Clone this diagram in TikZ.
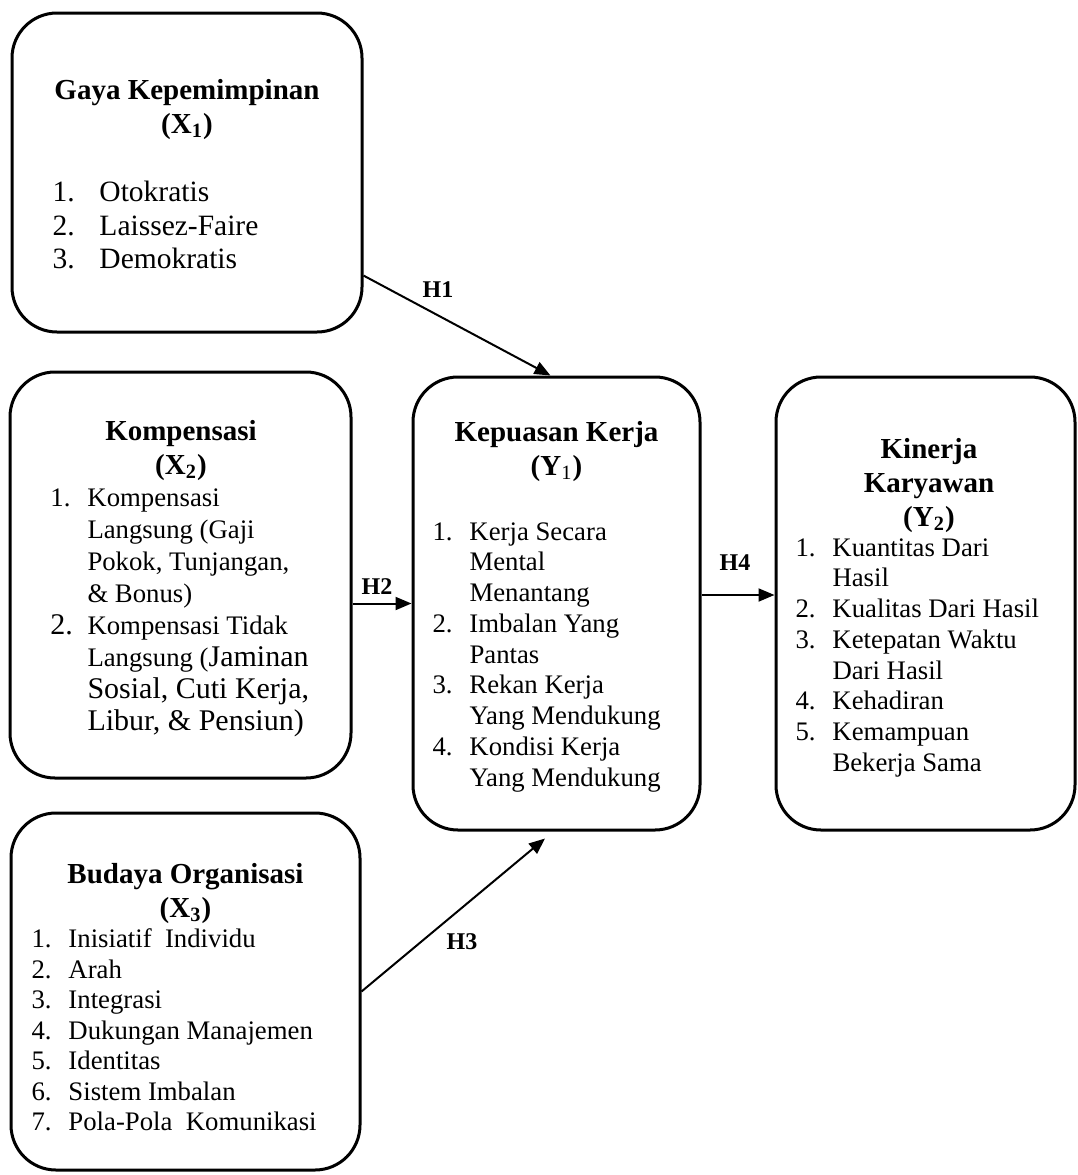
\documentclass[tikz,border=0pt]{standalone}
\usepackage{fontspec}
\setmainfont{Liberation Serif}
\usetikzlibrary{arrows.meta, positioning, calc}

\newcommand{\bigword}{\fontsize{12}{12.8}\selectfont}

\begin{document}
\begin{tikzpicture}[
    x=0.4pt, y=-0.4pt,
    varBox/.style 2 args={rectangle, draw=black, line width=1.2pt, rounded corners=18pt,
        minimum width=#1*0.4pt, minimum height=#2*0.4pt, inner sep=0pt},
    titleText/.style={anchor=north, inner sep=0pt, font=\fontsize{11.6}{13.6}\selectfont\bfseries},
    listText/.style={anchor=north west, inner sep=0pt, font=\fontsize{10.7}{#1}\selectfont},
    listText/.default=12.3pt,
    hypArrow/.style={-{Triangle[length=6.4pt, width=5.2pt]}, line width=0.8pt},
    hypLabel/.style={inner sep=0pt, font=\fontsize{9.6}{11}\selectfont\bfseries}
]
    \useasboundingbox (0,0) rectangle (1078,1175);

    % --- LEFT COLUMN: INDEPENDENT VARIABLES ---
    % Gaya Kepemimpinan (X1)
    \node[varBox={350}{319}] (gaya) at (187, 172.5) {};
    \node[titleText] (gayaTitle) at (187, 75) {\begin{tabular}{@{}c@{}}Gaya Kepemimpinan\\(X\textsubscript{1})\end{tabular}};
    \node[listText=13.4pt, font=\fontsize{11.8}{13.4}\selectfont] (gayaList) at (52, 178) {\begin{tabular}{@{}p{18.8pt}@{}l@{}}
        1. & Otokratis\\
        2. & Laissez-Faire\\
        3. & Demokratis
    \end{tabular}};

    % Kompensasi (X2)
    \node[varBox={341}{406}] (kompensasi) at (180.5, 575) {};
    \node[titleText] (kompensasiTitle) at (181, 416) {\begin{tabular}{@{}c@{}}Kompensasi\\(X\textsubscript{2})\end{tabular}};
    \node[listText=12.8pt] (kompensasiList) at (50, 484) {\begin{tabular}{@{}p{14.8pt}@{}l@{}}
        1. & Kompensasi\\
           & Langsung (Gaji\\
           & Pokok, Tunjangan,\\
           & \& Bonus)\\
        {\bigword 2.} & Kompensasi Tidak\\
           & Langsung ({\bigword Jaminan}\\
           & {\bigword Sosial, Cuti Kerja,}\\
           & {\bigword Libur, \& Pensiun)}
    \end{tabular}};

    % Budaya Organisasi (X3)
    \node[varBox={349}{357}] (budaya) at (185.5, 991.5) {};
    \node[titleText] (budayaTitle) at (185.5, 859) {\begin{tabular}{@{}c@{}}Budaya Organisasi\\(X\textsubscript{3})\end{tabular}};
    \node[listText=12.2pt] (budayaList) at (31, 926) {\begin{tabular}{@{}p{14.8pt}@{}l@{}}
        1. & Inisiatif\ \ Individu\\
        2. & Arah\\
        3. & Integrasi\\
        4. & Dukungan Manajemen\\
        5. & Identitas\\
        6. & Sistem Imbalan\\
        7. & Pola-Pola\ \ Komunikasi
    \end{tabular}};

    % --- MIDDLE: KEPUASAN KERJA (Y1) ---
    \node[varBox={287}{453}] (kepuasan) at (556.5, 603.5) {};
    \node[titleText] (kepuasanTitle) at (556.5, 417) {\begin{tabular}{@{}c@{}}Kepuasan Kerja\\(Y\textsubscript{\mdseries 1})\end{tabular}};
    \node[listText] (kepuasanList) at (432, 518) {\begin{tabular}{@{}p{14.8pt}@{}l@{}}
        1. & Kerja Secara\\
           & Mental\\
           & Menantang\\
        2. & Imbalan Yang\\
           & Pantas\\
        3. & Rekan Kerja\\
           & Yang Mendukung\\
        4. & Kondisi Kerja\\
           & Yang Mendukung
    \end{tabular}};

    % --- RIGHT: KINERJA KARYAWAN (Y2) ---
    \node[varBox={299}{453}] (kinerja) at (925.5, 603.5) {};
    \node[titleText] (kinerjaTitle) at (929, 434) {\begin{tabular}{@{}c@{}}Kinerja\\Karyawan\\(Y\textsubscript{2})\end{tabular}};
    \node[listText] (kinerjaList) at (795, 534) {\begin{tabular}{@{}p{14.8pt}@{}l@{}}
        1. & Kuantitas Dari\\
           & Hasil\\
        2. & Kualitas Dari Hasil\\
        3. & Ketepatan Waktu\\
           & Dari Hasil\\
        4. & Kehadiran\\
        5. & Kemampuan\\
           & Bekerja Sama
    \end{tabular}};

    % --- HYPOTHESES ---
    % H1: X1 -> Y1
    \draw[hypArrow] ($(gaya.south east)!0.18!(gaya.north east)$) -- ([xshift=-2.4pt]kepuasan.north);
    \node[hypLabel] (h1) at (438, 290) {H1};

    % H2: X2 -> Y1
    \draw[hypArrow] (kompensasi.east |- kepuasan.west) -- (kepuasan.west);
    \node[hypLabel] (h2) at (377, 587) {H2};

    % H3: X3 -> Y1
    \draw[hypArrow] (budaya.east) -- ([shift={(-4.6pt,-2.8pt)}]kepuasan.south);
    \node[hypLabel] (h3) at (462, 942) {H3};

    % H4: Y1 -> Y2
    \draw[hypArrow] ([yshift=3.4pt]kepuasan.east) -- ([yshift=3.4pt]kinerja.west);
    \node[hypLabel] (h4) at (735, 563) {H4};

\end{tikzpicture}
\end{document}
